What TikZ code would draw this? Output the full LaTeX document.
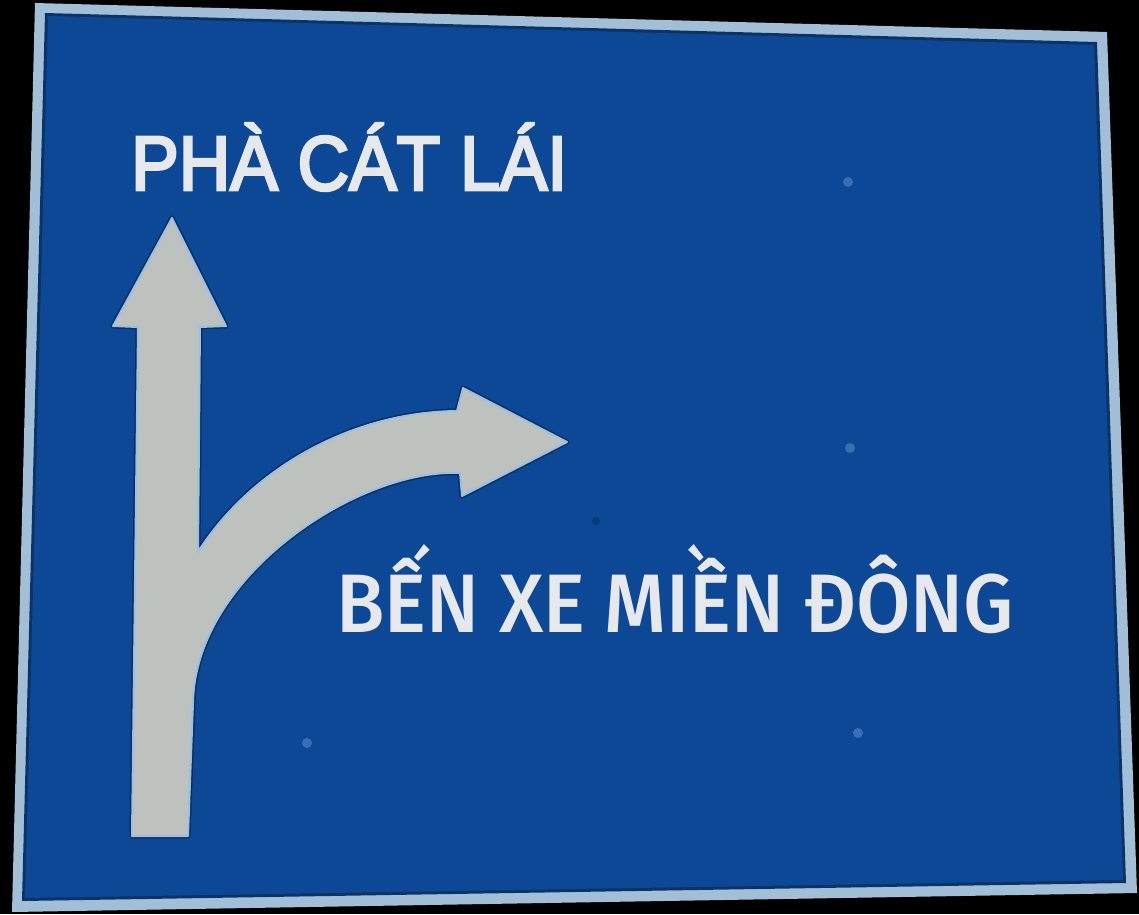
\documentclass[tikz,border=0pt]{standalone}
\usepackage{fontspec}
\IfFontExistsTF{Fira Sans Medium}{\newfontfamily\signfont{Fira Sans Medium}}{\newfontfamily\signfont{Fira Sans}[FakeBold=1.2]}
\newfontfamily\topfont{Liberation Sans}[FakeBold=3.8]
\definecolor{signblue}{HTML}{0C4896}
\definecolor{rim}{HTML}{A3BFD8}
\definecolor{rimdark}{HTML}{0A3468}
\definecolor{arrowgrey}{HTML}{BDC2BE}
\definecolor{halo}{HTML}{9EC0E0}
\definecolor{outline}{HTML}{082E62}
\definecolor{signtext}{HTML}{E6E8EC}
\definecolor{rivet}{HTML}{3C6EB8}
\definecolor{spot}{HTML}{083A78}
\tikzset{
  signlabel/.style={inner sep=0pt, anchor=base west, text=signtext},
  arrowunder/.style={draw=outline, line width=5pt, line join=round},
  arrowbody/.style={fill=arrowgrey, draw=halo, line width=2pt, line join=round},
  rivetdot/.style={fill=rivet}
}
\begin{document}
\begin{tikzpicture}[x=1pt,y=-1pt]
\useasboundingbox (0,0) rectangle (1139,914);
\fill[black] (0,0) rectangle (1139,914);
% sign plate
\fill[rim] (35,3) -- (1107,32) -- (1137,893) -- (12,912) -- cycle;
\fill[rimdark] (45,13) -- (1097,42) -- (1126,883) -- (22,901) -- cycle;
\fill[signblue] (48,16) -- (1094,45) -- (1123,880) -- (25,898) -- cycle;
% rivets
\fill[rivetdot] (848,182) circle (5);
\fill[rivetdot] (850,448) circle (5);
\fill[rivetdot] (307,743) circle (5);
\fill[rivetdot] (858,733) circle (5);
\fill[spot] (596,521) circle (4);
% arrow
\def\arrowpath{(132,836) -- (138,327) -- (113,326) -- (172,218) -- (226,326) -- (200,327) -- (198,552)
  .. controls (250,470) and (350,412) .. (457,411) -- (463,388) -- (567,442) -- (462,496) -- (460,473)
  .. controls (360,468) and (195,575) .. (193,703) -- (188,836) -- cycle}
\draw[arrowunder] \arrowpath;
\draw[arrowbody] \arrowpath;
% texts
\node[signlabel] (top) at (131,190) {\resizebox{436pt}{\height}{\fontsize{77pt}{90pt}\topfont PHÀ CÁT LÁI}};
\node[signlabel] (bottom) at (336,632) {\resizebox{678pt}{\height}{\fontsize{83pt}{93pt}\signfont BẾN XE MIỀN ĐÔNG}};
\end{tikzpicture}
\end{document}
